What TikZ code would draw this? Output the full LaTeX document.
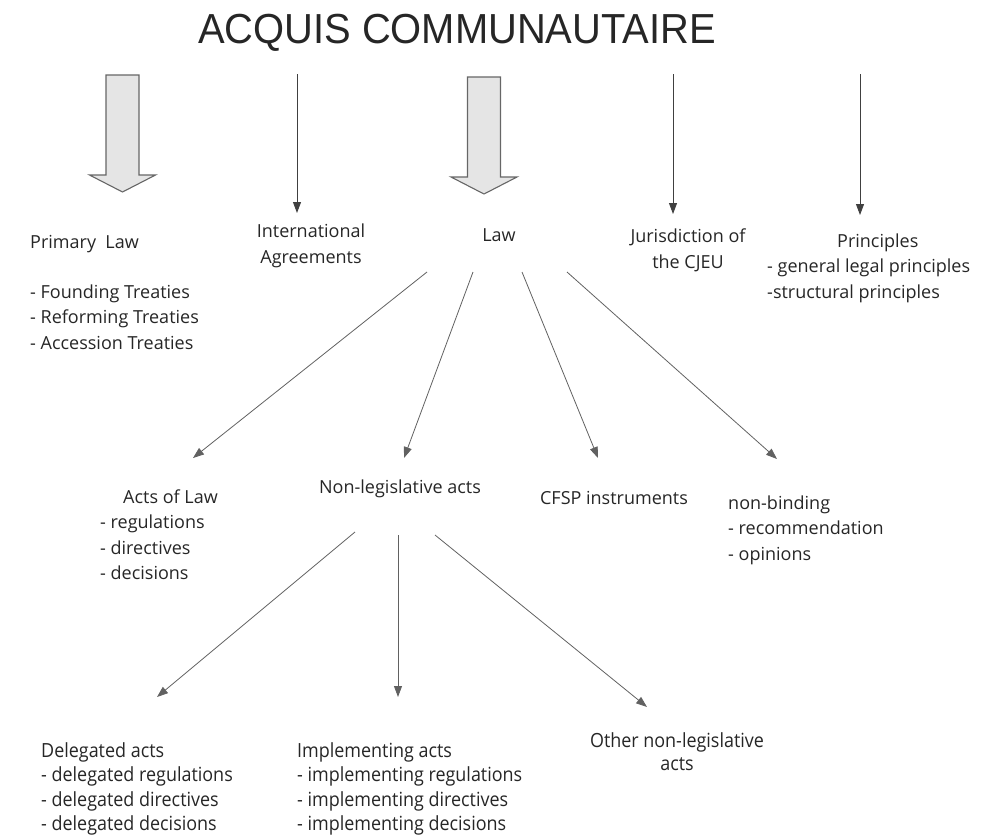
\documentclass[tikz,border=0pt]{standalone}
\usepackage{fontspec}
\setmainfont{Open Sans}
\newfontfamily\titlefont{Liberation Sans}
\usetikzlibrary{arrows.meta}
\usetikzlibrary{calc}

\begin{document}
\begin{tikzpicture}[
    x=1pt, y=-1pt,
    txt/.style={inner sep=0pt, font=\fontsize{18}{25.5}\selectfont, align=left, text=black!85},
    lowtxt/.style={txt, font=\fontsize{19.5}{24.5}\selectfont, xscale=0.92},
    thinarrow/.style={-{Triangle[length=11pt, width=8pt]}, draw=black!75, line width=0.9pt},
    branch/.style={-{Triangle[length=11pt, width=8pt]}, draw=black!62, line width=0.8pt},
    blockarrow/.style={fill=black!10, draw=black!60, line width=1.1pt, line join=miter}
  ]
  \useasboundingbox (0,0) rectangle (984,835);

  % Titel
  \node[inner sep=0pt, anchor=base, xscale=0.95, text=black!85,
        font=\titlefont\fontsize{42}{42}\selectfont] (title) at (457,43) {ACQUIS COMMUNAUTAIRE};

  % Blockpfeile
  \foreach \cx/\ty in {122.5/75, 484/77}
    \draw[blockarrow] (\cx-16.5,\ty) -- (\cx+16.5,\ty) -- (\cx+16.5,\ty+100) -- (\cx+33,\ty+100)
      -- (\cx,\ty+117) -- (\cx-33,\ty+100) -- (\cx-16.5,\ty+100) -- cycle;

  % Erste Ebene (Basislinie der letzten Zeile)
  \node[txt, anchor=base west] (pl) at (30,349)
    {Primary\ \ Law\\[24.5pt]- Founding Treaties\\- Reforming Treaties\\- Accession Treaties};
  \node[txt, align=center, anchor=base] (ia) at (311,263) {International\\Agreements};
  \node[txt, anchor=base] (law) at (499,241) {Law};
  \node[txt, align=center, anchor=base] (cj) at (688,268) {Jurisdiction of\\the CJEU};
  \node[txt, anchor=base west] (pr) at (767,298)
    {\hspace*{70pt}Principles\\- general legal principles\\-structural principles};

  % duenne Pfeile
  \coordinate (ia-top) at (297,74);  \coordinate (ia-in) at (297,213);
  \coordinate (cj-top) at (673,74);  \coordinate (cj-in) at (673,214);
  \coordinate (pr-top) at (860,74);  \coordinate (pr-in) at (860,215);
  \foreach \n in {ia, cj, pr}
    \draw[thinarrow] (\n-top) -- (\n-in);

  % Zweite Ebene
  \node[txt, anchor=base west] (al) at (100,579.5)
    {\hspace*{23pt}Acts of Law\\- regulations\\- directives\\- decisions};
  \node[txt, anchor=base] (nl) at (400,493) {Non-legislative acts};
  \node[txt, anchor=base] (cf) at (614,504) {CFSP instruments};
  \node[txt, anchor=base west] (nb) at (728,560) {non-binding\\- recommendation\\- opinions};

  \coordinate (law-1) at (427,272);  \coordinate (al-in) at (193,458);
  \coordinate (law-2) at (473,272);  \coordinate (nl-in) at (404,458);
  \coordinate (law-3) at (522,272);  \coordinate (cf-in) at (598,458);
  \coordinate (law-4) at (567,272);  \coordinate (nb-in) at (777,459);
  \draw[branch] (law-1) -- (al-in);
  \draw[branch] (law-2) -- (nl-in);
  \draw[branch] (law-3) -- (cf-in);
  \draw[branch] (law-4) -- (nb-in);

  % Dritte Ebene
  \node[lowtxt, anchor=base west] (da) at (41,830.5)
    {Delegated acts\\- delegated regulations\\- delegated directives\\- delegated decisions};
  \node[lowtxt, anchor=base west] (im) at (297,830.5)
    {Implementing acts\\- implementing regulations\\- implementing directives\\- implementing decisions};
  \node[lowtxt, align=center, anchor=base] (on) at (677,770) {Other non-legislative\\[-1.5pt]acts};

  \coordinate (nl-1) at (355,532);  \coordinate (da-in) at (157,697);
  \coordinate (nl-2) at (398,535);  \coordinate (im-in) at (398,697);
  \coordinate (nl-3) at (435,535);  \coordinate (on-in) at (647,707);
  \draw[branch] (nl-1) -- (da-in);
  \draw[branch] (nl-2) -- (im-in);
  \draw[branch] (nl-3) -- (on-in);
\end{tikzpicture}
\end{document}
